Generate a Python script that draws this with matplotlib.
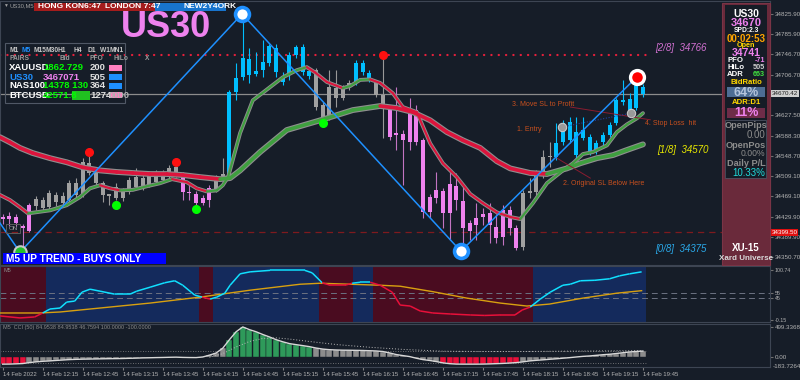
import numpy as np
import matplotlib
matplotlib.use('Agg')
import matplotlib.pyplot as plt
from matplotlib.collections import LineCollection
from matplotlib.patches import Rectangle

plt.rcParams['font.family'] = ['Liberation Sans', 'DejaVu Sans']

BG = '#161d28'

# ---- US30 M5 candles, 14 Feb 2022 11:45 .. 19:45 ----
opens = [34429, 34431, 34429, 34411, 34452, 34450, 34462, 34448, 34472, 34456,
         34462, 34495, 34472, 34535, 34517, 34495, 34474, 34466, 34466, 34478,
         34488, 34505, 34492, 34497, 34501, 34507, 34527, 34511, 34478, 34474,
         34466, 34486, 34482, 34509, 34511, 34673, 34703, 34707, 34709, 34716,
         34730, 34712, 34693, 34707, 34746, 34712, 34705, 34716, 34648, 34625,
         34681, 34662, 34683, 34691, 34712, 34697, 34693, 34668, 34644, 34593,
         34591, 34634, 34638, 34580, 34468, 34482, 34480, 34494, 34490, 34460,
         34417, 34427, 34435, 34437, 34409, 34443, 34443, 34407, 34370, 34476,
         34478, 34511, 34546, 34546, 34576, 34580, 34550, 34583, 34554, 34556,
         34576, 34589, 34613, 34654, 34638, 34642, 34683]
closes = [34425, 34425, 34417, 34407, 34402, 34464, 34447, 34476, 34458, 34470,
          34495, 34472, 34537, 34515, 34495, 34472, 34470, 34488, 34478, 34501,
          34507, 34488, 34511, 34515, 34515, 34525, 34511, 34478, 34476, 34456,
          34456, 34462, 34505, 34513, 34673, 34701, 34740, 34738, 34714, 34732,
          34763, 34759, 34703, 34746, 34761, 34761, 34714, 34644, 34623, 34683,
          34662, 34683, 34691, 34730, 34730, 34710, 34668, 34644, 34585, 34589,
          34580, 34576, 34576, 34439, 34439, 34466, 34437, 34437, 34462, 34407,
          34402, 34413, 34429, 34413, 34388, 34390, 34407, 34368, 34476, 34480,
          34511, 34546, 34548, 34574, 34613, 34615, 34595, 34599, 34585, 34574,
          34589, 34609, 34658, 34658, 34660, 34687, 34670]
highs = [34435, 34439, 34435, 34415, 34456, 34470, 34468, 34482, 34478, 34478,
         34501, 34505, 34544, 34554, 34521, 34499, 34474, 34495, 34486, 34507,
         34525, 34511, 34517, 34521, 34521, 34531, 34537, 34517, 34492, 34480,
         34472, 34492, 34511, 34544, 34677, 34730, 34820, 34759, 34752, 34775,
         34767, 34767, 34712, 34752, 34765, 34767, 34720, 34720, 34654, 34716,
         34716, 34687, 34697, 34736, 34736, 34716, 34697, 34746, 34648, 34683,
         34599, 34662, 34648, 34583, 34474, 34517, 34486, 34517, 34515, 34488,
         34423, 34456, 34447, 34456, 34435, 34452, 34450, 34413, 34482, 34505,
         34521, 34560, 34576, 34613, 34619, 34625, 34625, 34625, 34591, 34580,
         34595, 34615, 34662, 34697, 34671, 34707, 34689]
lows = [34415, 34411, 34411, 34364, 34400, 34443, 34439, 34443, 34450, 34450,
        34456, 34466, 34468, 34511, 34492, 34458, 34452, 34462, 34460, 34474,
        34484, 34482, 34488, 34494, 34497, 34501, 34507, 34462, 34462, 34452,
        34452, 34448, 34478, 34505, 34507, 34658, 34697, 34691, 34705, 34703,
        34724, 34703, 34687, 34697, 34740, 34707, 34699, 34638, 34619, 34619,
        34644, 34658, 34677, 34687, 34707, 34693, 34664, 34583, 34580, 34560,
        34492, 34560, 34570, 34427, 34427, 34456, 34407, 34384, 34443, 34370,
        34384, 34384, 34413, 34378, 34378, 34374, 34394, 34364, 34364, 34466,
        34472, 34505, 34527, 34540, 34570, 34574, 34544, 34580, 34550, 34552,
        34570, 34585, 34609, 34648, 34634, 34638, 34664]
# p = bearish (pink), c = bullish trend (cyan), g = neutral (gray)
candle_kind = ("ppppp" "gggggggggggggggggggggg" "ppppp" "gg" "ccccccccccccc"
               "gggggg" "ccc" "gg" "pppppppppppppppppppp" "ggggg" "cccccccccccccc")

# moving averages (bar index, price)
fast_x = [-0.4, 1.1, 2.6, 3.8, 7.1, 9.6, 11.6, 13.1, 14.6, 16.1, 17.6, 19.5, 21.6, 23.6,
          25.4, 27.6, 29.1, 30.6, 32.1, 33.0, 33.8, 35.6, 37.5, 40.1, 42.0, 44.1, 45.6,
          46.8, 48.6, 51.0, 52.1, 53.6, 55.1, 56.6, 58.5, 60.0, 62.1, 64.1, 66.0, 68.1,
          70.1, 72.0, 74.1, 76.1, 77.6, 79.5, 81.6, 84.0, 85.5, 87.0, 88.5, 90.6, 92.1,
          93.6, 95.1, 96.0]
fast_y = [34472, 34462, 34448, 34436, 34442, 34452, 34468, 34485, 34491, 34485, 34481,
          34482, 34489, 34495, 34503, 34497, 34485, 34479, 34481, 34491, 34507, 34593,
          34657, 34683, 34702, 34716, 34722, 34712, 34693, 34681, 34685, 34697, 34698,
          34691, 34671, 34644, 34634, 34573, 34534, 34507, 34474, 34456, 34438, 34429,
          34425, 34456, 34495, 34520, 34534, 34552, 34556, 34569, 34595, 34610, 34622,
          34632]
slow_x = [-0.4, 1.1, 2.6, 4.5, 7.1, 9.6, 12.0, 14.6, 17.1, 19.5, 22.1, 24.6, 27.0, 29.6,
          32.6, 34.1, 35.6, 38.6, 42.6, 47.6, 52.5, 56.6, 59.1, 61.5, 64.1, 66.6, 69.0,
          71.6, 74.1, 76.1, 79.1, 81.6, 84.6, 86.6, 89.1, 91.5, 93.6, 96.0]
slow_y = [34585, 34575, 34564, 34554, 34544, 34536, 34526, 34520, 34517, 34515, 34513,
          34513, 34511, 34507, 34503, 34505, 34520, 34556, 34599, 34618, 34638, 34646,
          34642, 34634, 34618, 34595, 34579, 34564, 34538, 34524, 34515, 34513, 34524,
          34534, 34544, 34550, 34560, 34571]

# zigzag swing points
zz_x = [-0.4, 2.6, 35.9, 68.7, 95.1]
zz_y = [34417, 34360, 34826, 34362, 34703]

# signal dots
dn_x = [13, 26, 57]
dn_y = [34556, 34537, 34746]
up_x = [17, 29, 48]
up_y = [34452, 34445, 34613]

last_price = 34670.42
stop_price = 34399.50
dotted_level = 34746

price_ticks = [34825.90, 34785.90, 34746.70, 34706.70, 34627.50, 34588.30,
               34548.70, 34509.10, 34469.10, 34429.90, 34389.90, 34350.70]

# trade annotations (bar index, price)
move_x, move_y = [85.1, 97.1], [34644, 34619]
sl_x, sl_y = [83.1, 88.1], [34544, 34505]
entry_x, entry_y = [83.9, 94.2], [34605, 34632]

# ---- M5 trend panel ----
reg_edges = [-0.5, 6.5, 29.5, 31.5, 47.5, 52.5, 55.5, 79.5, 96.5]
reg_up = [0, 1, 0, 1, 0, 1, 0, 1]
st_x = [-0.4, 2.6, 4.8, 6.0, 7.1, 8.6, 9.6, 10.8, 11.9, 13.1, 14.6, 16.8, 19.1, 20.1,
        22.1, 24.3, 25.8, 27.0, 28.8, 29.9, 31.1, 32.1, 33.3, 34.1, 35.6, 37.1, 40.1,
        43.1, 45.3, 46.4, 47.9, 49.1, 51.3, 52.4, 53.6, 55.1, 56.6, 58.4, 59.6, 61.1,
        62.6, 64.5, 67.1, 70.1, 72.3, 74.6, 76.8, 77.9, 79.1, 80.6, 82.1, 84.0, 85.1,
        86.6, 88.8, 91.0, 92.5, 94.0, 95.8]
st_y = [8, 4, 6, 14, 22, 24, 36, 38, 56, 62, 58, 52, 52, 58, 66, 75, 79, 70, 50, 46,
        42, 46, 54, 70, 93, 97, 100, 100, 100, 95, 75, 70, 70, 74, 76, 76, 70, 56, 30,
        28, 18, 14, 12, 10, 9, 10, 10, 20, 26, 42, 56, 70, 72, 79, 80, 83, 89, 93, 97]
or_x = [-0.4, 5.6, 8.6, 14.6, 22.1, 29.6, 37.1, 44.6, 47.6, 52.1, 56.6, 59.6, 64.5,
        69.6, 74.6, 78.6, 82.0, 87.0, 92.1, 95.8]
or_y = [14, 14, 16, 24, 34, 46, 60, 72, 74, 72, 70, 68, 57, 44, 34, 28, 32, 44, 54, 59]

# ---- CCI(50) panel ----
cci = [-113, -112, -108, -103, -88, -75, -66, -60, -52, -45, -38, -34, -31, -29, -27,
       -25, -23, -22, -20, -17, -14, -10, -8, -5, -3, 0, 2, -2, -4, -5, 5, 35, 70, 150,
       290, 420, 500, 455, 420, 375, 335, 290, 255, 225, 208, 192, 175, 152, 135, 125,
       120, 117, 116, 114, 112, 108, 104, 95, 72, 45, 28, 12, -15, -38, -52, -70, -92,
       -105, -112, -113, -113, -113, -112, -109, -105, -101, -95, -88, -75, -60, -50,
       -42, -33, -25, -15, -6, 5, 15, 22, 32, 42, 50, 62, 75, 88, 96, 102]
cci_state = ("rrrr" "nnnnnnnnnnnnnnnnnnnnnnnnnnnnnn" "uuuuuuuuuuuuu"
             "nnnnnnnnnnnnnnnnnnn" "rrrrrrrrrrrr" "nnnnnnnnnnnnnnnnnnn")
sig_x = [31, 33, 35, 37, 39, 41, 43, 46, 50, 55, 60, 66, 72, 78, 84, 90, 96]
sig_y = [0, 60, 170, 260, 310, 320, 300, 260, 210, 165, 130, 100, 95, 95, 100, 105, 110]

time_idx = list(range(0, 97, 6))
time_lbl = ['14 Feb 2022', '14 Feb 12:15', '14 Feb 12:45', '14 Feb 13:15', '14 Feb 13:45',
            '14 Feb 14:15', '14 Feb 14:45', '14 Feb 15:15', '14 Feb 15:45', '14 Feb 16:15',
            '14 Feb 16:45', '14 Feb 17:15', '14 Feb 17:45', '14 Feb 18:15', '14 Feb 18:45',
            '14 Feb 19:15', '14 Feb 19:45']

# ---------------------------------------------------------------
W, H = 800.0, 380.0
AX_FS = 4.5


def rect(x0, y0, x1, y1):
    return [x0 / W, 1 - y1 / H, (x1 - x0) / W, (y1 - y0) / H]


fig = plt.figure(figsize=(8, 3.8), dpi=100, facecolor=BG)
ax = fig.add_axes(rect(0, 1, 770, 265))
a1 = fig.add_axes(rect(0, 266, 770, 322))
a2 = fig.add_axes(rect(0, 324, 770, 367))
for a in (ax, a1, a2):
    a.set_facecolor(BG)
    a.set_xlim(-0.4, 115.05)
    for s in a.spines.values():
        s.set_color('#3d4553')
        s.set_linewidth(0.8)
    a.yaxis.tick_right()
    a.tick_params(axis='y', labelsize=AX_FS, labelcolor='#b4b4b4', color='#707070',
                  length=2, pad=1.2)
    a.tick_params(axis='x', length=0, labelbottom=False)

# main price panel
ax.set_ylim(34335.1, 34851.3)
ax.set_yticks(price_ticks)
ax.set_yticklabels([f'{v:.2f}' for v in price_ticks])

ax.axhline(last_price, color='#8c8c8c', lw=0.9, zorder=2)
ax.axhline(stop_price, color='#7e1a1e', lw=0.9, ls=(0, (5, 4)), zorder=2)
ax.plot([-0.4, 96.5], [dotted_level, dotted_level], color='#e8203c', lw=1.6,
        ls=(0, (0.1, 3.2)), dash_capstyle='round', zorder=2)

idx = np.arange(len(opens))
o, c = np.array(opens, float), np.array(closes, float)
body_col = {'c': '#00bfff', 'p': '#ee82ee', 'g': '#a0a0a0'}
wick_col = {'c': '#00bfff', 'p': '#c274c2', 'g': '#989898'}
ax.vlines(idx, lows, highs, colors=[wick_col[k] for k in candle_kind], lw=0.8, zorder=3)
bot = np.minimum(o, c)
ht = np.maximum(np.abs(c - o), 2.5)
ax.bar(idx, ht, bottom=bot, width=0.6, color=[body_col[k] for k in candle_kind],
       lw=0, zorder=4)


def ribbon(a, xs, ys, lw_out, lw_in):
    a.plot(xs, ys, color='#8f8f8f', lw=lw_out, solid_capstyle='round', zorder=5)
    segs = [[(xs[k], ys[k]), (xs[k + 1], ys[k + 1])] for k in range(len(xs) - 1)]
    cols = ['#3f9f3f' if ys[k + 1] > ys[k] else '#dc143c' for k in range(len(xs) - 1)]
    a.add_collection(LineCollection(segs, colors=cols, linewidths=lw_in,
                                    capstyle='round', zorder=6))


ribbon(ax, slow_x, slow_y, 4.2, 2.6)
ribbon(ax, fast_x, fast_y, 2.8, 1.5)

ax.plot(zz_x, zz_y, color='#1e90ff', lw=1.1, zorder=7)
ax.plot(zz_x[2:4], zz_y[2:4], 'o', ms=10, mfc='white', mec='#1e90ff', mew=2.6, zorder=8)
ax.plot(zz_x[4], zz_y[4], 'o', ms=10, mfc='#ff0000', mec='white', mew=2.4, zorder=8)
ax.plot(zz_x[1], zz_y[1], 'o', ms=9, mfc='#22c02a', mec='#c8c8c8', mew=1.5, zorder=8)
ax.plot(dn_x, dn_y, 'o', ms=5.5, color='#ff1010', zorder=8)
ax.plot(up_x, up_y, 'o', ms=5.5, color='#00ff00', zorder=8)

ann_col = '#c8501e'
ax.plot(move_x, move_y, color='#8a1c30', lw=0.7, zorder=6)
ax.plot(sl_x, sl_y, color='#8a1c30', lw=0.7, zorder=6)
ax.plot(entry_x, entry_y, color='#2040a0', lw=0.8, ls=(0, (1, 1.5)), zorder=6)
ax.plot(entry_x, entry_y, 'o', ms=6, mfc='#9a9a9a', mec='#c8c8c8', mew=0.8, zorder=8)
ax.text(76.4, 34648, '3. Move SL to Profit', color=ann_col, fontsize=5, va='center', zorder=9)
ax.text(77.1, 34601, '1. Entry', color=ann_col, fontsize=5, va='center', zorder=9)
ax.text(84.0, 34494, '2. Original SL Below Here', color=ann_col, fontsize=5, va='center', zorder=9)
ax.text(96.3, 34611, '4. Stop Loss  hit', color=ann_col, fontsize=5, va='center', zorder=9)

ax.text(97.9, 34759, '[2/8]  34766', color='#d070d0', fontsize=7, style='italic', va='center')
ax.text(98.2, 34560, '[1/8]  34570', color='#e8e800', fontsize=7, style='italic', va='center')
ax.text(97.9, 34366, '[0/8]  34375', color='#2aa8e8', fontsize=7, style='italic', va='center')

yt = ax.get_yaxis_transform()
ax.text(1.002, last_price, f'{last_price:.2f}', transform=yt, fontsize=AX_FS, color='#202020',
        va='center', ha='left', clip_on=False,
        bbox=dict(boxstyle='square,pad=0.15', fc='#d0d0d0', ec='none'))
ax.text(1.002, stop_price, f'{stop_price:.2f}', transform=yt, fontsize=AX_FS, color='white',
        va='center', ha='left', clip_on=False,
        bbox=dict(boxstyle='square,pad=0.15', fc='#e01010', ec='none'))

# trend panel
a1.set_ylim(-4.2, 108.8)
a1.set_yticks([100.74, 55, 45, -0.15])
a1.set_yticklabels(['100.74', '55', '45', '-0.15'])
a1.tick_params(axis='y', labelsize=3.8)
for k in range(len(reg_up)):
    a1.axvspan(reg_edges[k], reg_edges[k + 1], color='#142a5c' if reg_up[k] else '#4a0c20',
               lw=0, zorder=1)
for lvl in (55, 45):
    a1.axhline(lvl, color='#6c7282', lw=0.7, ls=(0, (6, 4)), zorder=2)
a1.plot(or_x, or_y, color='#d8a010', lw=1.0, zorder=3)
segs = [[(st_x[k], st_y[k]), (st_x[k + 1], st_y[k + 1])] for k in range(len(st_x) - 1)]
mid = [(st_x[k] + st_x[k + 1]) / 2 for k in range(len(st_x) - 1)]
band = np.clip(np.searchsorted(reg_edges, mid) - 1, 0, len(reg_up) - 1)
a1.add_collection(LineCollection(segs, colors=['#10e0ff' if reg_up[b] else '#e8103a' for b in band],
                                 linewidths=1.1, zorder=4))

# CCI panel
a2.set_ylim(-160, 548)
a2.set_yticks([499.3368, 0])
a2.set_yticklabels(['499.3368', '0.00'])
a2.text(1.003, -150, '-183.7264', transform=a2.get_yaxis_transform(), fontsize=AX_FS,
        color='#b4b4b4', va='center', ha='left', clip_on=False)
hcol = {'r': '#e8103a', 'u': '#2e9a5a', 'n': '#8c8c8c'}
a2.bar(np.arange(len(cci)), cci, width=0.9, color=[hcol[k] for k in cci_state],
       edgecolor=BG, lw=0.3, zorder=2)
a2.plot(np.arange(len(cci)), cci, color='#d8d8d8', lw=1.0, zorder=3)
for lvl in (100, -100):
    a2.plot([-0.4, 96.5], [lvl, lvl], color='#8a8a8a', lw=0.6, ls=(0, (1, 2)), zorder=1)
a2.plot(sig_x, sig_y, color='#b8b8b8', lw=0.7, ls=(0, (1, 2)), zorder=3)
a2.set_xticks(time_idx)
a2.set_xticklabels(time_lbl, ha='left')
a2.tick_params(axis='x', length=2, color='#808080', labelbottom=True, labelsize=4.3,
               labelcolor='#b4b4b4', pad=1.5)

# ---- overlay: terminal widgets ----
ov = fig.add_axes([0, 0, 1, 1])
ov.set_xlim(0, W)
ov.set_ylim(H, 0)
ov.axis('off')


def t(x, y, s, c='#c8c8c8', fs=5, ha='left', w='normal', **kw):
    ov.text(x, y, s, color=c, fontsize=fs, ha=ha, va='center', fontweight=w, **kw)


def box(x0, y0, x1, y1, fc, ec='none', lw=0.8):
    ov.add_patch(Rectangle((x0, y0), x1 - x0, y1 - y0, fc=fc, ec=ec, lw=lw))


t(3, 5.5, '\u25bc', '#a0a0a0', 3.5)
t(10, 5.5, 'US30,M5', '#a0a0a0', 4.2)
box(34, 3, 155, 11, '#a41c1c')
box(155, 3, 226, 11, '#1874cd')
t(38, 7, 'HONG KON6:47', 'white', 6, w='bold')
t(105, 7, 'LONDON 7:47', 'white', 6, w='bold')
t(184, 7, 'NEW2Y4ORK', 'white', 6, w='bold')
t(166, 27.5, 'US30', '#ee82ee', 26, ha='center', w='bold')

box(5, 43, 125, 103, 'none', '#505866')
for x, s in zip([9, 22, 33, 45, 57, 73, 87, 100, 110],
                ['M1', 'M5', 'M15', 'M30', 'H1', 'H4', 'D1', 'W1', 'MN1']):
    t(x, 50, s, '#1e90ff' if s == 'M5' else '#c8c8c8', 4.8, w='bold')
t(10, 59, 'PAIRS', '#9a9a9a', 4.8, w='bold')
t(60, 59, 'Bid', '#9a9a9a', 4.8, w='bold')
t(90, 59, 'PFO', '#9a9a9a', 4.8, w='bold')
t(113, 59, 'HiLo', '#9a9a9a', 4.8, w='bold')
t(145, 59, 'X', '#9a9a9a', 4.8, w='bold')
box(72, 91, 90, 100, '#20c020')
rows = [('XAUUSD', 'white', '1862.729', '#00ff00', '200', '#ff80c0'),
        ('US30', '#1e90ff', '3467071', '#ee82ee', '505', '#1e90ff'),
        ('NAS100', 'white', '14378 130', '#00ff00', '364', '#1e90ff'),
        ('BTCUSD', 'white', '42571.8', '#00ff00', '1274', '#ff80c0')]
for k, (sym, sc, bid, bc, pfo, hc) in enumerate(rows):
    y = 68 + 9 * k
    t(9, y, sym, sc, 6.8, w='bold')
    t(43, y, bid, bc, 6.8, w='bold')
    t(90, y, pfo, '#e0e0e0', 6.8, w='bold')
    box(109, y - 3, 122, y + 3, hc)
t(109, 95, '0000', '#b0b0b0', 6.8, w='bold')

box(6, 224, 20, 233, 'none', '#5a5a5a', 0.7)
t(13, 228.5, 'ON', '#a0a0a0', 4.5, ha='center')
box(3, 253, 166, 264, '#0000ff')
t(6, 258.5, 'M5 UP TREND - BUYS ONLY', 'white', 7.3, w='bold')
t(3, 270, 'M5', '#8a8a8a', 4)
t(3, 328, 'M5  CCI (50) 84.9538 84.9538 46.7594 100.0000 -100.0000', '#8a8a8a', 4)

# info panel on the right
box(722, 3, 770, 265, '#6a2a3b', '#7a3446')
box(725, 5, 767, 178, '#161c26')
box(725, 120, 766, 178, 'none', '#4a5060', 0.6)
cx = 746
t(cx, 14, 'US30', 'white', 7.5, ha='center', w='bold')
t(cx, 23, '34670', '#ee82ee', 8, ha='center', w='bold')
t(cx, 31, 'SPD:2.3', 'white', 4.8, ha='center', w='bold')
t(cx, 38.5, '00:02:53', '#ffa500', 7, ha='center', w='bold')
t(cx, 45.5, 'Open', '#ffd700', 5.2, ha='center', w='bold')
t(cx, 53, '34741', '#ee82ee', 7.5, ha='center', w='bold')
for y, lab, val, vc in [(61, 'PFO', '-71', '#ee82ee'), (67.5, 'HiLo', '505', '#d0d0d0'),
                        (74, 'ADR', '663', '#40e040')]:
    t(727, y, lab, 'white', 5.6, w='bold')
    t(765, y, val, vc, 5.2, ha='right', w='bold')
t(cx, 83, 'BidRatio', '#ffd700', 5.6, ha='center', w='bold')
box(727, 87, 765, 97, '#4d6d94')
t(cx, 92.5, '64%', '#b4c4dc', 9, ha='center', w='bold')
t(cx, 103, 'ADR:D1', '#ffd700', 5.6, ha='center', w='bold')
box(727, 108, 765, 118, '#6e2c48')
t(cx, 113.5, '11%', '#ee82ee', 9, ha='center', w='bold')
t(cx, 125, 'OpenPips', '#8c8c8c', 6.6, ha='center', w='bold')
t(765, 135, '0.00', '#8c8c8c', 7, ha='right')
t(cx, 145.5, 'OpenPos', '#8c8c8c', 6.6, ha='center', w='bold')
t(765, 154, '0.00%', '#8c8c8c', 6.2, ha='right')
t(cx, 164, 'Daily P/L', '#8c8c8c', 6.6, ha='center', w='bold')
t(765, 173, '10.33%', '#20dcdc', 7, ha='right')
t(cx, 248, 'XU-15', 'white', 7, ha='center', w='bold')
t(cx, 258, 'Xard Universe', '#d8d8d8', 5.8, ha='center', w='bold')

fig.savefig('out.png', dpi=100, facecolor=BG)
